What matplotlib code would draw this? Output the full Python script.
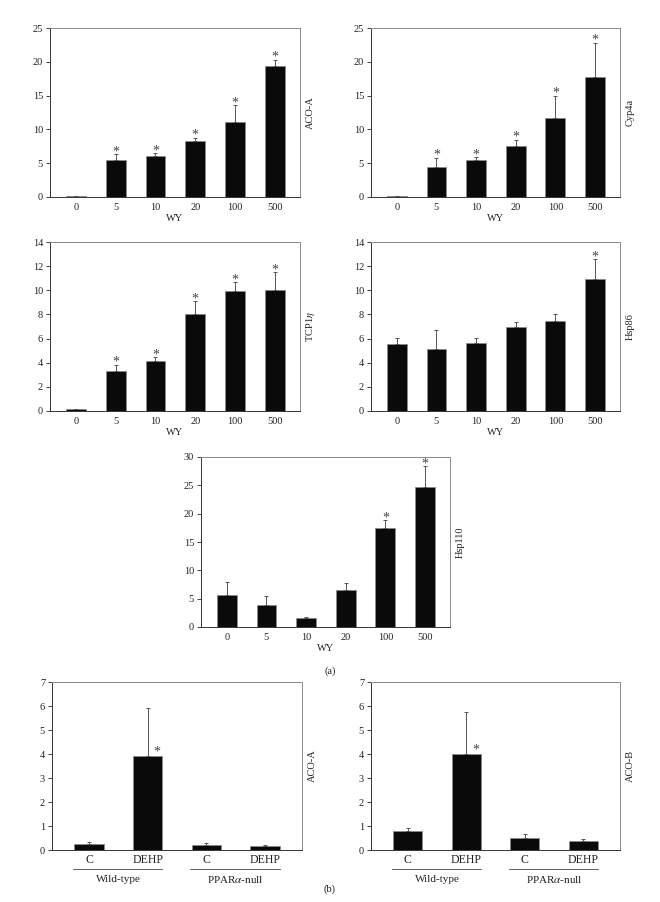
import numpy as np
import matplotlib
matplotlib.use("Agg")
from matplotlib import pyplot as plt
from matplotlib import transforms

plt.rcParams['font.family'] = ['Liberation Serif', 'DejaVu Serif']
plt.rcParams['mathtext.fontset'] = 'stix'

# DADOS

doses = ['0', '5', '10', '20', '100', '500']

aco_a = [0.1, 5.4, 6.0, 8.3, 11.1, 19.4]
aco_a_err = [0.05, 0.95, 0.45, 0.5, 2.45, 0.9]
aco_a_sig = [False, True, True, True, True, True]

cyp4a = [0.1, 4.5, 5.4, 7.6, 11.7, 17.8]
cyp4a_err = [0.0, 1.3, 0.5, 0.9, 3.3, 5.0]
cyp4a_sig = [False, True, True, True, True, True]

tcp1 = [0.15, 3.3, 4.15, 8.0, 9.95, 10.0]
tcp1_err = [0.05, 0.55, 0.3, 1.1, 0.7, 1.5]
tcp1_sig = [False, True, True, True, True, True]

hsp86 = [5.55, 5.15, 5.65, 7.0, 7.45, 10.9]
hsp86_err = [0.5, 1.55, 0.4, 0.4, 0.55, 1.7]
hsp86_sig = [False, False, False, False, False, True]

hsp110 = [5.7, 3.9, 1.6, 6.6, 17.5, 24.7]
hsp110_err = [2.3, 1.6, 0.25, 1.1, 1.4, 3.7]
hsp110_sig = [False, False, False, False, True, True]

grupos_b = ['C', 'DEHP', 'C', 'DEHP']
genotipos = ['Wild-type', 'PPAR$\\alpha$-null']

aco_a_b = [0.25, 3.92, 0.21, 0.18]
aco_a_b_err = [0.08, 2.0, 0.07, 0.02]
aco_a_b_sig = [False, True, False, False]

aco_b_b = [0.78, 4.0, 0.5, 0.36]
aco_b_b_err = [0.14, 1.75, 0.17, 0.11]
aco_b_b_sig = [False, True, False, False]


# LAYOUT (pixels: esquerda, direita, topo, base)

W, H = 660, 902
def rect(x0, x1, y0, y1):
    return [x0 / W, (H - y1) / H, (x1 - x0) / W, (y1 - y0) / H]

cor_texto = "#222222"
fig = plt.figure(figsize=(6.6, 9.02), dpi=100)


def painel(pos, labels, valores, erros, sig, ymax, ystep, ylabel, xlabel=None, estrela_lado=False):
    ax = fig.add_axes(pos)
    x = np.arange(len(valores))
    ax.bar(x, valores, width=0.5, color="#0a0a0a", edgecolor="#8a8a8a", linewidth=0.6, zorder=2)
    ax.errorbar(x, valores, yerr=[np.zeros(len(erros)), erros], fmt='none',
                ecolor="#555555", elinewidth=0.7, capsize=1.2, capthick=0.7, zorder=3)
    for i in range(len(valores)):
        if sig[i]:
            if estrela_lado:
                # estrela ao lado da barra de erro (painel b)
                ax.annotate('*', (x[i] + 0.16, valores[i]), xytext=(0, -2), textcoords='offset points',
                            ha='center', va='bottom', fontsize=10, color="#444444")
            else:
                ax.annotate('*', (x[i], valores[i] + erros[i]), xytext=(0, -3), textcoords='offset points',
                            ha='center', va='bottom', fontsize=10, color="#444444")
    ax.set_xlim(-0.65, len(valores) - 0.37)
    ax.set_ylim(0, ymax)
    ax.set_yticks(np.arange(0, ymax + 0.01, ystep))
    ax.set_xticks(x)
    ax.set_xticklabels(labels)
    ax.tick_params(axis='x', length=0, pad=4, labelsize=7.5, colors=cor_texto)
    ax.tick_params(axis='y', length=3, width=0.6, pad=2, labelsize=7.5, colors=cor_texto)
    for s in ['left', 'bottom']:
        ax.spines[s].set_color("#333333")
        ax.spines[s].set_linewidth(0.7)
    for s in ['top', 'right']:
        ax.spines[s].set_color("#8a8a8a")
        ax.spines[s].set_linewidth(0.7)
    ax.text(1.042, 0.5, ylabel, transform=ax.transAxes, rotation=90, ha='center', va='center',
            fontsize=7.5, color=cor_texto)
    if xlabel:
        ax.set_xlabel(xlabel, fontsize=7.5, color=cor_texto, labelpad=2)
    return ax


painel(rect(50, 300, 28, 197), doses, aco_a, aco_a_err, aco_a_sig, 25, 5, "ACO-A", "WY")
painel(rect(371, 620, 28, 197), doses, cyp4a, cyp4a_err, cyp4a_sig, 25, 5, "Cyp4a", "WY")
painel(rect(50, 300, 242, 411), doses, tcp1, tcp1_err, tcp1_sig, 14, 2, "TCP1$\\eta$", "WY")
painel(rect(371, 620, 242, 411), doses, hsp86, hsp86_err, hsp86_sig, 14, 2, "Hsp86", "WY")
painel(rect(201, 450, 457, 627), doses, hsp110, hsp110_err, hsp110_sig, 30, 5, "Hsp110", "WY")

for pos, vals, errs, sig, nome in [(rect(52, 302, 682, 850), aco_a_b, aco_a_b_err, aco_a_b_sig, "ACO-A"),
                                   (rect(371, 620, 682, 850), aco_b_b, aco_b_b_err, aco_b_b_sig, "ACO-B")]:
    ax = painel(pos, grupos_b, vals, errs, sig, 7, 1, nome, estrela_lado=True)
    ax.set_xlim(-0.63, 3.63)
    ax.tick_params(axis='x', labelsize=8.5, pad=3)
    trans = transforms.blended_transform_factory(ax.transData, ax.transAxes)
    for g, x0 in enumerate([0, 2]):
        ax.plot([x0 - 0.27, x0 + 1.25], [-0.113, -0.113], transform=trans, color="#444444",
                linewidth=0.6, clip_on=False)
        ax.text(x0 + 0.5, -0.175, genotipos[g], transform=trans, ha='center', va='center',
                fontsize=8, color=cor_texto)

fig.text(330 / W, 1 - 671 / H, "(a)", ha='center', va='center', fontsize=7.5, color=cor_texto)
fig.text(330 / W, 1 - 889 / H, "(b)", ha='center', va='center', fontsize=7.5, color=cor_texto)

plt.savefig("out.png", dpi=100)
plt.close()
